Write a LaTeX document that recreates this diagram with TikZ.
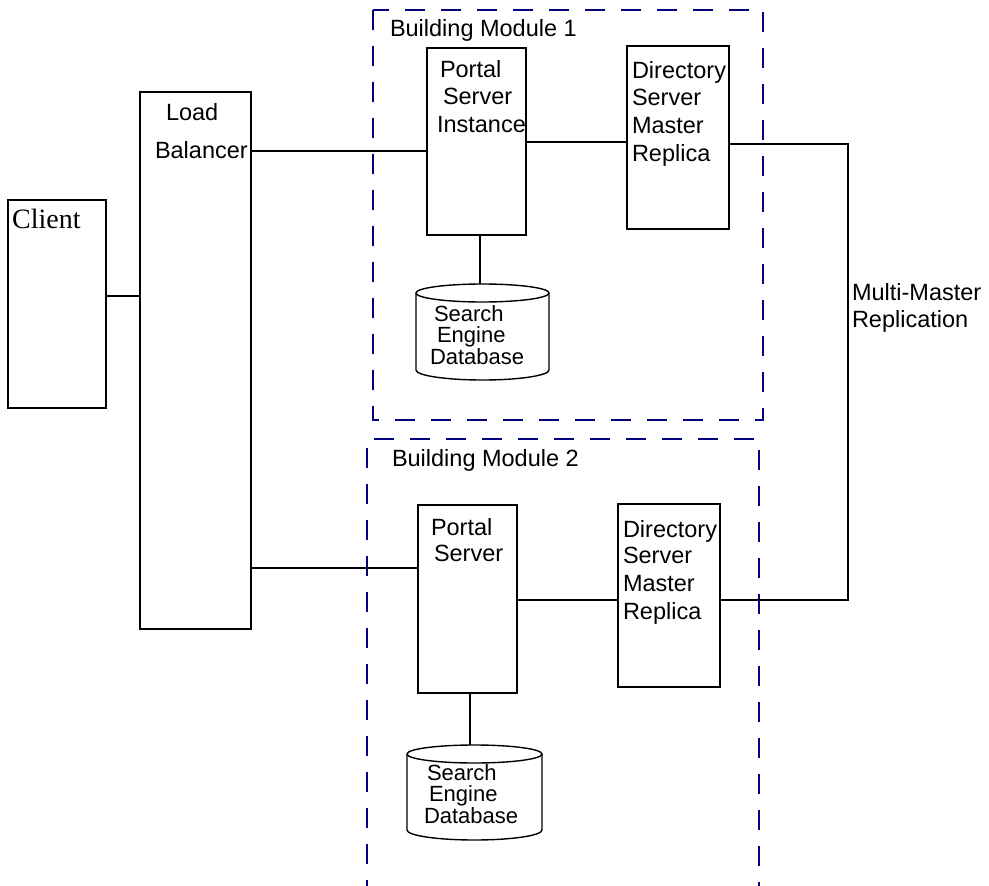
\documentclass[tikz,border=0pt]{standalone}
\usepackage{fontspec}
\setmainfont{Liberation Sans}
\newfontfamily\clientfont{Liberation Serif}
\definecolor{navyd}{RGB}{0,0,128}
\tikzset{
  box/.style={draw=black, line width=1.6pt, rectangle, inner sep=0pt, outer sep=0pt, anchor=north west},
  lbl/.style={anchor=base west, inner sep=0pt, outer sep=0pt, font=\fontsize{23.5}{26}\selectfont},
  dblbl/.style={anchor=base west, inner sep=0pt, outer sep=0pt, font=\fontsize{22}{24}\selectfont},
  conn/.style={draw=black, line width=1.6pt},
  module/.style={draw=navyd, line width=1.8pt, dash pattern=on 20pt off 16pt},
  dbshape/.style={draw=black, line width=1.4pt}
}
\begin{document}
\begin{tikzpicture}[x=1pt, y=-1pt]
\useasboundingbox (0,0) rectangle (989,886);
\begin{scope}
\clip (0,0) rectangle (989,886);
% building modules
\draw[module] (373,10) rectangle (763,420);
\draw[module] (367,900) -- (367,439) -- (759,439) -- (759,900);
\end{scope}
\node[lbl] (bm1) at (390,36) {Building Module 1};
\node[lbl] (bm2) at (392,466) {Building Module 2};

% boxes
\node[box, minimum width=98pt, minimum height=208pt] (client) at (8,200) {};
\node[box, minimum width=111pt, minimum height=537pt] (lb) at (140,92) {};
\node[box, minimum width=99pt, minimum height=187pt] (pi1) at (427,48) {};
\node[box, minimum width=102pt, minimum height=183pt] (ds1) at (627,46) {};
\node[box, minimum width=99pt, minimum height=188pt] (ps2) at (418,505) {};
\node[box, minimum width=102pt, minimum height=183pt] (ds2) at (618,504) {};

% texts
\node[anchor=base west, inner sep=0pt, font=\clientfont\fontsize{28}{30}\selectfont] (clientt) at (12,228) {Client};
\node[lbl] (lb1) at (166,120) {Load};
\node[lbl] (lb2) at (155,158) {Balancer};
\node[lbl] (pi1a) at (440,77) {Portal};
\node[lbl] (pi1b) at (443,104) {Server};
\node[lbl] (pi1c) at (437,132) {Instance};
\node[lbl] (ds1a) at (632,78) {Directory};
\node[lbl] (ds1b) at (632,105) {Server};
\node[lbl] (ds1c) at (632,133) {Master};
\node[lbl] (ds1d) at (632,161) {Replica};
\node[lbl] (ps2a) at (431,535) {Portal};
\node[lbl] (ps2b) at (434,561) {Server};
\node[lbl] (ds2a) at (623,537) {Directory};
\node[lbl] (ds2b) at (623,563) {Server};
\node[lbl] (ds2c) at (623,591) {Master};
\node[lbl] (ds2d) at (623,619) {Replica};
\node[lbl] (mm1t) at (852,300) {Multi-Master};
\node[lbl] (mm2t) at (852,327) {Replication};

% databases
\coordinate (db1top) at (480,284);
\coordinate (db2top) at (470,745);
\draw[dbshape] (482.5,293) ellipse [x radius=66.5pt, y radius=9pt];
\draw[dbshape] (416,293) -- (416,370) arc[start angle=180, end angle=360, x radius=66.5pt, y radius=10pt] -- (549,293);
\draw[dbshape] (474.5,754) ellipse [x radius=67.5pt, y radius=9pt];
\draw[dbshape] (407,754) -- (407,830) arc[start angle=180, end angle=360, x radius=67.5pt, y radius=10pt] -- (542,754);
\node[dblbl] (db1a) at (434,321) {Search};
\node[dblbl] (db1b) at (437,342) {Engine};
\node[dblbl] (db1c) at (430,364) {Database};
\node[dblbl] (db2a) at (427,780) {Search};
\node[dblbl] (db2b) at (429,801) {Engine};
\node[dblbl] (db2c) at (424,823) {Database};

% connector helper coordinates
\coordinate (yc) at (0,296);
\coordinate (y1) at (0,151);
\coordinate (y2) at (0,142);
\coordinate (y3) at (0,144);
\coordinate (y4) at (0,568);
\coordinate (y5) at (0,600);
\coordinate (mmA) at (848,144);
\coordinate (mmB) at (848,600);

% connectors
\draw[conn] (client.east |- yc) -- (lb.west |- yc);
\draw[conn] (lb.east |- y1) -- (pi1.west |- y1);
\draw[conn] (pi1.east |- y2) -- (ds1.west |- y2);
\draw[conn] (ds1.east |- y3) -- (mmA) -- (mmB) -- (ds2.east |- mmB);
\draw[conn] (lb.east |- y4) -- (ps2.west |- y4);
\draw[conn] (ps2.east |- y5) -- (ds2.west |- y5);
\draw[conn] (db1top |- pi1.south) -- (db1top);
\draw[conn] (db2top |- ps2.south) -- (db2top);
\end{tikzpicture}
\end{document}
